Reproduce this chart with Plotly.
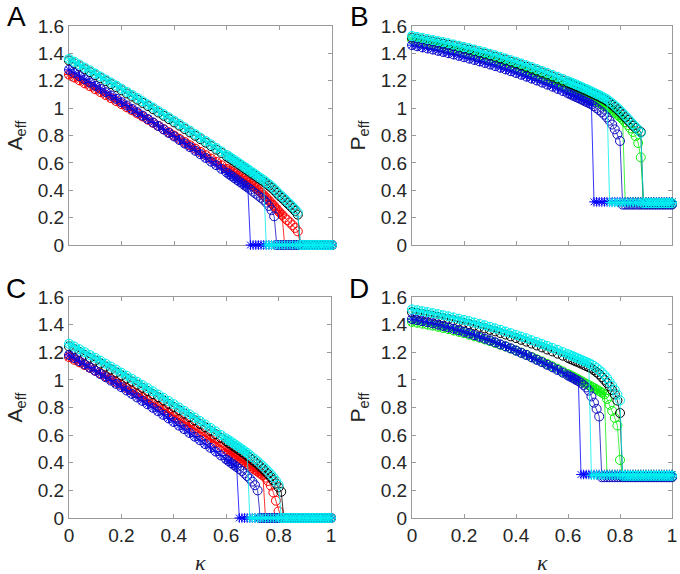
import numpy as np
import plotly.graph_objects as go

# kappa grid (coarse 0.02 steps up to 0.6, then 0.01 steps)
kappa = np.round(np.concatenate([np.arange(0, 0.6001, 0.02), np.arange(0.61, 1.0001, 0.01)]), 2)
x_ticks = [0, 0.2, 0.4, 0.6, 0.8, 1]
y_ticks = [0, 0.2, 0.4, 0.6, 0.8, 1, 1.2, 1.4, 1.6]

# ---------- Panel A : A_eff ----------
A_blue = [1.280,1.257,1.234,1.210,1.187,1.163,1.140,1.116,1.092,1.068,1.043,1.019,0.994,0.970,0.945,0.920,
          0.895,0.869,0.844,0.818,0.793,0.767,0.741,0.715,0.689,0.663,0.636,0.609,0.583,0.556,0.529,
          0.515,0.502,0.488,0.474,0.461,0.447,0.433,0.419,
          0.405,0.390,0.375,0.360,0.345,0.330,0.310,0.285,0.255,0.210]
A_red = [1.245,1.224,1.203,1.181,1.160,1.138,1.117,1.095,1.073,1.051,1.029,1.006,0.984,0.961,0.939,0.916,
         0.893,0.870,0.846,0.823,0.799,0.776,0.752,0.728,0.704,0.680,0.656,0.631,0.607,0.582,0.557,
         0.545,0.533,0.520,0.507,0.495,0.482,0.470,0.457,
         0.444,0.430,0.415,0.400,0.383,0.365,0.345,0.325,0.305,0.285,0.262,0.240,0.220,0.200,0.182,0.165,0.145,0.125,0.100]
A_cyan = [1.360,1.339,1.318,1.296,1.275,1.253,1.231,1.209,1.187,1.165,1.142,1.119,1.097,1.074,1.050,1.027,
          1.004,0.980,0.956,0.932,0.908,0.884,0.859,0.835,0.810,0.785,0.760,0.735,0.709,0.684,0.658,
          0.645,0.632,0.619,0.606,0.593,0.580,0.567,0.554,0.540,0.527,0.514,0.500,0.487,0.474,
          0.460,0.445,0.430,0.412,0.392,0.372,0.355,0.337,0.318,0.300,0.281,0.261,0.238]
A_black = [1.348,1.327,1.306,1.284,1.263,1.241,1.219,1.197,1.175,1.153,1.130,1.107,1.085,1.062,1.038,1.015,
           0.992,0.968,0.944,0.920,0.896,0.872,0.847,0.823,0.798,0.773,0.748,0.723,0.697,0.672,0.646,
           0.633,0.620,0.607,0.594,0.581,0.568,0.555,0.542,0.528,0.515,0.502,0.488,0.475,0.462,
           0.448,0.433,0.418,0.400,0.380,0.360,0.343,0.325,0.306,0.288,0.269,0.249,0.222]

# ---------- Panel B : P_eff ----------
B_blue = [1.460,1.452,1.444,1.436,1.428,1.419,1.410,1.401,1.392,1.382,1.372,1.362,1.352,1.341,1.330,1.319,
          1.307,1.295,1.283,1.270,1.257,1.244,1.230,1.216,1.202,1.187,1.172,1.157,1.141,1.125,1.108,
          1.100,1.091,1.082,1.073,1.064,1.055,1.046,1.037,1.027,
          1.014,1.000,0.985,0.970,0.952,0.932,0.908,0.880,0.845,0.808,0.760]
B_green = [1.500,1.492,1.484,1.476,1.468,1.459,1.450,1.441,1.432,1.422,1.412,1.402,1.392,1.381,1.370,1.359,
           1.347,1.335,1.323,1.310,1.297,1.284,1.270,1.256,1.242,1.227,1.212,1.197,1.181,1.165,1.148,
           1.140,1.131,1.122,1.113,1.104,1.095,1.086,1.077,1.068,1.058,1.048,1.038,1.028,1.017,
           1.006,0.994,0.981,0.967,0.952,0.936,0.918,0.898,0.876,0.852,0.826,0.795,0.745,0.640]
B_cyan = [1.527,1.520,1.513,1.505,1.498,1.490,1.482,1.474,1.465,1.456,1.447,1.438,1.428,1.418,1.408,1.397,
          1.386,1.375,1.363,1.351,1.339,1.326,1.313,1.300,1.286,1.272,1.258,1.243,1.228,1.213,1.197,
          1.189,1.181,1.173,1.165,1.157,1.148,1.140,1.131,1.122,1.113,1.104,1.095,1.085,1.075,1.064,
          1.050,1.035,1.019,1.002,0.984,0.965,0.945,0.925,0.904,0.882,0.862,0.842,0.820]
B_black = [1.515,1.508,1.501,1.493,1.486,1.478,1.470,1.462,1.453,1.444,1.435,1.426,1.416,1.406,1.396,1.385,
           1.374,1.363,1.351,1.339,1.327,1.314,1.301,1.288,1.274,1.260,1.246,1.231,1.216,1.201,1.185,
           1.177,1.169,1.161,1.153,1.145,1.136,1.128,1.119,1.110,1.101,1.092,1.083,1.073,1.063,1.052,
           1.038,1.023,1.007,0.990,0.972,0.953,0.933,0.913,0.893,0.872,0.855,0.840,0.826]

# ---------- Panel C : A_eff ----------
C_blue = [1.180,1.158,1.135,1.112,1.089,1.066,1.042,1.019,0.995,0.971,0.947,0.923,0.898,0.873,0.848,0.823,
          0.798,0.773,0.747,0.721,0.695,0.669,0.643,0.616,0.589,0.563,0.535,0.508,0.481,0.453,0.425,
          0.411,0.397,0.383,0.369,
          0.355,0.340,0.322,0.304,0.285,0.263,0.237,0.200]
C_red = [1.165,1.146,1.127,1.107,1.087,1.067,1.047,1.027,1.006,0.985,0.964,0.942,0.921,0.899,0.877,0.855,
         0.832,0.810,0.787,0.764,0.740,0.717,0.693,0.669,0.645,0.620,0.595,0.570,0.545,0.520,0.494,
         0.481,0.468,0.455,0.442,0.429,0.416,0.403,0.390,0.376,0.363,0.349,0.336,0.322,0.309,
         0.292,0.268,0.235,0.185,0.125,0.048]
C_cyan = [1.262,1.242,1.222,1.201,1.180,1.160,1.139,1.117,1.096,1.074,1.052,1.030,1.008,0.986,0.963,0.940,
          0.917,0.894,0.871,0.847,0.824,0.800,0.776,0.751,0.727,0.702,0.677,0.652,0.627,0.601,0.576,
          0.563,0.550,0.537,0.524,0.511,0.498,0.484,0.471,
          0.455,0.440,0.425,0.410,0.392,0.375,0.356,0.337,0.317,0.295,0.270,0.240]
C_black = [1.242,1.222,1.202,1.181,1.160,1.140,1.119,1.097,1.076,1.054,1.032,1.010,0.988,0.966,0.943,0.920,
           0.897,0.874,0.851,0.827,0.804,0.780,0.756,0.731,0.707,0.682,0.657,0.632,0.607,0.581,0.556,
           0.543,0.530,0.517,0.504,0.491,0.478,0.464,0.451,0.435,0.420,0.405,0.390,0.372,0.355,0.336,
           0.317,0.297,0.275,0.250,0.222,0.190]

# ---------- Panel D : P_eff ----------
D_blue = [1.440,1.433,1.425,1.417,1.409,1.400,1.390,1.380,1.370,1.359,1.348,1.336,1.324,1.312,1.299,1.286,
          1.272,1.257,1.243,1.228,1.212,1.196,1.180,1.163,1.145,1.128,1.109,1.091,1.072,1.052,1.032,
          1.022,1.012,1.001,0.991,
          0.978,0.963,0.945,0.922,0.880,0.835,0.790,0.735]
D_green = [1.420,1.414,1.407,1.400,1.393,1.385,1.376,1.367,1.358,1.348,1.338,1.327,1.316,1.305,1.293,1.281,
           1.268,1.254,1.241,1.227,1.212,1.197,1.182,1.166,1.149,1.133,1.115,1.098,1.080,1.061,1.042,
           1.032,1.023,1.013,1.003,0.993,0.982,0.972,0.962,0.951,0.941,0.930,0.919,0.908,
           0.895,0.862,0.820,0.775,0.725,0.670,0.420]
D_cyan = [1.510,1.504,1.497,1.491,1.483,1.476,1.468,1.460,1.452,1.443,1.434,1.425,1.415,1.405,1.395,1.384,
          1.373,1.362,1.350,1.338,1.326,1.313,1.301,1.287,1.274,1.260,1.246,1.231,1.217,1.201,1.186,
          1.178,1.170,1.162,1.154,1.146,1.138,1.129,1.121,
          1.112,1.100,1.086,1.071,1.054,1.035,1.012,0.985,0.958,0.928,0.893,0.852]
D_black = [1.490,1.484,1.477,1.471,1.463,1.456,1.448,1.440,1.431,1.422,1.413,1.404,1.394,1.384,1.373,1.362,
           1.351,1.339,1.328,1.315,1.303,1.290,1.277,1.263,1.249,1.235,1.220,1.206,1.190,1.175,1.159,
           1.151,1.142,1.134,1.126,1.118,1.109,1.100,1.092,
           1.083,1.070,1.055,1.040,1.020,1.000,0.978,0.953,0.926,0.895,0.850,0.760]

# series: (values, colour, marker, last kappa on the upper branch, lower-branch level)
BLUE, BLUE_O, RED, CYAN, BLACK, GREEN = '#0000FF', '#1010C0', '#FF0000', '#00F0F0', '#000000', '#10F010'
panel_series = {
    'A': [(A_red, RED, '*', 0.81, 0.0), (A_red, RED, 'o', 0.87, 0.0), (A_black, BLACK, 'o', 0.87, 0.0),
          (A_blue, BLUE, '*', 0.68, 0.0), (A_blue, BLUE_O, 'o', 0.78, 0.0),
          (A_cyan, CYAN, '*', 0.74, 0.0), (A_cyan, CYAN, 'o', 0.87, 0.0)],
    'B': [(B_green, GREEN, '*', 0.81, 0.315), (B_green, GREEN, 'o', 0.88, 0.30), (B_black, BLACK, 'o', 0.88, 0.30),
          (B_blue, BLUE, '*', 0.69, 0.315), (B_blue, BLUE_O, 'o', 0.80, 0.295),
          (B_cyan, CYAN, '*', 0.75, 0.31), (B_cyan, CYAN, 'o', 0.88, 0.305)],
    'C': [(C_red, RED, '*', 0.74, 0.0), (C_red, RED, 'o', 0.80, 0.0), (C_black, BLACK, 'o', 0.81, 0.0),
          (C_blue, BLUE, '*', 0.64, 0.0), (C_blue, BLUE_O, 'o', 0.72, 0.0),
          (C_cyan, CYAN, '*', 0.68, 0.0), (C_cyan, CYAN, 'o', 0.80, 0.0)],
    'D': [(D_green, GREEN, '*', 0.74, 0.315), (D_green, GREEN, 'o', 0.80, 0.30), (D_black, BLACK, 'o', 0.80, 0.30),
          (D_blue, BLUE, '*', 0.64, 0.315), (D_blue, BLUE_O, 'o', 0.72, 0.295),
          (D_cyan, CYAN, '*', 0.68, 0.31), (D_cyan, CYAN, 'o', 0.80, 0.305)],
}
panel_ylabels = {'A': 'A<sub>eff</sub>', 'B': 'P<sub>eff</sub>', 'C': 'A<sub>eff</sub>', 'D': 'P<sub>eff</sub>'}

W, H = 680, 574
# pixel boxes: left, right, top, bottom
boxes = {'A': (69, 332, 26, 245), 'B': (412, 672, 26, 245),
         'C': (69, 331, 297, 518), 'D': (412, 672, 297, 518)}
axis_ids = {'A': '', 'B': '2', 'C': '3', 'D': '4'}

fig = go.Figure()
FONT = 'Liberation Sans, Arial, sans-serif'
axis_line = '#9a9a9a'

def branch(values, end_k, low):
    n = int(np.where(np.isclose(kappa, end_k))[0][0]) + 1
    y = list(values[:n]) + [low] * (len(kappa) - n)
    return list(kappa), y

annotations = []
for p, series in panel_series.items():
    aid = axis_ids[p]
    for vals, col, mk, endk, low in series:
        xs, ys = branch(vals, endk, low)
        if mk == 'o':
            marker = dict(symbol='circle-open', size=9, color=col, line=dict(width=1, color=col))
        else:
            marker = dict(symbol='asterisk-open', size=8, color=col, line=dict(width=1, color=col))
        fig.add_trace(go.Scatter(x=xs, y=ys, mode='lines+markers', xaxis='x' + aid, yaxis='y' + aid,
                                 line=dict(color=col, width=0.8), marker=marker,
                                 cliponaxis=False, showlegend=False, hoverinfo='skip'))
    l, r, t, b = boxes[p]
    common = dict(showline=True, linecolor=axis_line, linewidth=1, mirror='ticks', ticks='inside',
                  ticklen=4, tickcolor=axis_line, showgrid=False, zeroline=False, automargin=False,
                  ticklabeloverflow='allow',
                  tickfont=dict(family=FONT, size=19, color='#262626'), layer='below traces')
    fig.update_layout(**{
        'xaxis' + aid: dict(domain=[l / W, r / W], range=[0, 1], tickvals=x_ticks,
                            showticklabels=p in ('C', 'D'), anchor='y' + aid, **common),
        'yaxis' + aid: dict(domain=[1 - b / H, 1 - t / H], range=[0, 1.6], tickvals=y_ticks,
                            anchor='x' + aid, **common),
    })
    # panel letter
    annotations.append(dict(text=p, x=(l - 53) / W, y=1 - (t - 9) / H, xref='paper', yref='paper',
                            xanchor='center', yanchor='middle', showarrow=False,
                            font=dict(family=FONT, size=28, color='#000000')))
    # y label
    annotations.append(dict(text=panel_ylabels[p], x=(l - 54) / W, y=1 - ((t + b) / 2) / H,
                            xref='paper', yref='paper', xanchor='center', yanchor='middle',
                            textangle=-90, showarrow=False, font=dict(family=FONT, size=21, color='#262626')))
    if p in ('C', 'D'):
        annotations.append(dict(text='<i>κ</i>', x=((l + r) / 2) / W, y=1 - 562 / H, xref='paper', yref='paper',
                                xanchor='center', yanchor='middle', showarrow=False,
                                font=dict(family='Liberation Serif, serif', size=22, color='#262626')))

fig.update_layout(template='none', width=W, height=H,
                  margin=dict(l=0, r=0, t=0, b=0, pad=0, autoexpand=False),
                  paper_bgcolor='white', plot_bgcolor='white', annotations=annotations, showlegend=False)

fig.write_html('out.html', config={'displayModeBar': False},
               post_script="document.body.style.margin='0px';document.body.style.overflow='hidden';")
